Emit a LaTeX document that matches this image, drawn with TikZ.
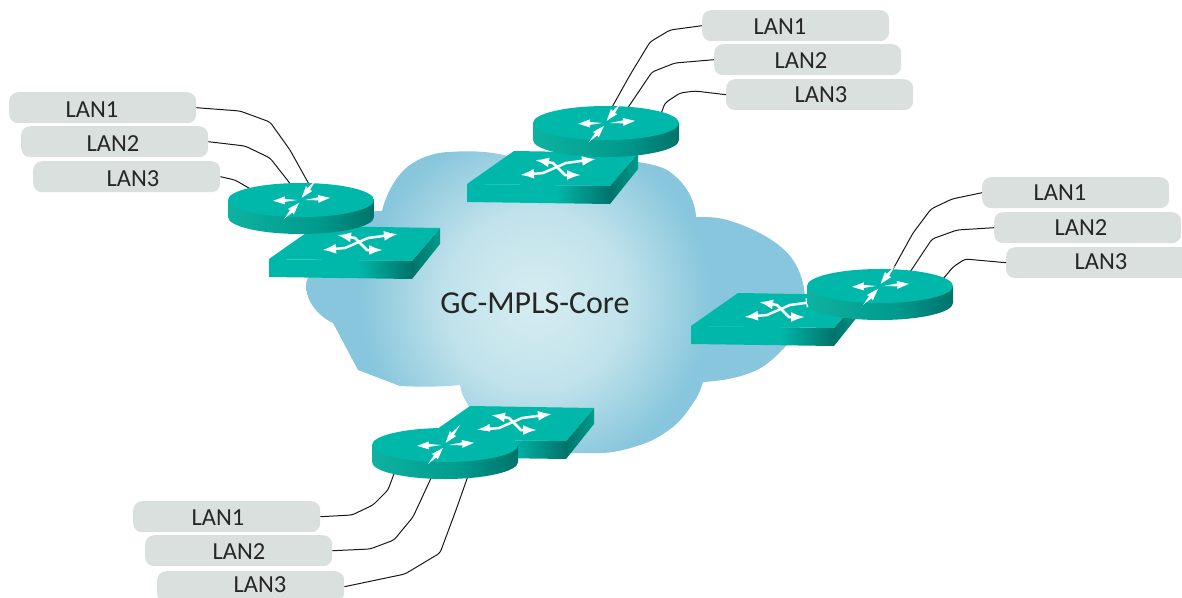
\documentclass[tikz,border=0pt]{standalone}
\usepackage{fontspec}
\setmainfont{Carlito}
\usetikzlibrary{arrows.meta}
\definecolor{pillc}{RGB}{218,224,222}
\definecolor{topc}{RGB}{0,184,170}
\definecolor{sidel}{RGB}{14,178,160}
\definecolor{sidem}{RGB}{0,155,142}
\definecolor{sider}{RGB}{0,115,107}
\definecolor{cloudin}{RGB}{214,237,241}
\definecolor{cloudmid}{RGB}{192,226,235}
\definecolor{cloudout}{RGB}{135,198,220}
\definecolor{wirec}{RGB}{25,25,25}
\pgfdeclareradialshading{cloudshade}{\pgfpoint{0bp}{0bp}}{%
  color(0bp)=(cloudin); color(7.5bp)=(cloudmid); color(14.6bp)=(cloudout); color(50bp)=(cloudout)}
\pgfdeclarehorizontalshading{sideshade}{100bp}{%
  color(0bp)=(sidel); color(25bp)=(sidel); color(55bp)=(sidem); color(75bp)=(sider); color(100bp)=(sider)}
\pgfdeclarehorizontalshading{frontshade}{100bp}{%
  color(0bp)=(topc); color(56bp)=(topc); color(75bp)=(sider); color(100bp)=(sider)}
\pgfdeclarehorizontalshading{endshade}{100bp}{%
  color(0bp)=(sider); color(25bp)=(sider); color(75bp)=(sidem); color(100bp)=(sidem)}
\tikzset{
  pill/.style={fill=pillc,rounded corners=9pt,minimum width=187pt,minimum height=31pt,inner sep=0pt},
  lantext/.style={font=\fontsize{24.5}{28}\selectfont,text=black!85,inner sep=0pt},
  wire/.style={draw=wirec,line width=1pt,rounded corners=3pt},
  whitearrow/.style={draw=white,line width=2.5pt,{Latex[length=14pt,width=10pt]}-{Latex[length=14pt,width=10pt]}},
  sidefill/.style={shading=sideshade,shading angle=0},
}
\newcommand{\tarrow}[4]{%
  \begin{scope}[shift={(#1,#2)},rotate=#3]
    \fill[white] (0,0) -- (#4-11,1.6) -- (#4-12,-4) -- (#4,0) -- (#4-12,4) -- (#4-11,-1.6) -- cycle;
  \end{scope}}
\newcommand{\routerat}[3]{%
  \path[sidefill] (#2-73,#3) -- (#2-73,#3+17) arc[start angle=180,end angle=360,x radius=73pt,y radius=17pt] -- (#2+73,#3) -- cycle;
  \fill[topc] (#2,#3) ellipse[x radius=73pt,y radius=17pt];
  \node[inner sep=0pt,minimum size=0pt] (#1) at (#2,#3) {};
  \begin{scope}[shift={(#2,#3)}]
    \tarrow{-4}{0}{182}{24}
    \tarrow{4}{0}{5}{25}
    \tarrow{15}{-20}{231}{23}
    \tarrow{-17}{19}{47}{22}
  \end{scope}}
\newcommand{\switchat}[3]{%
  \path[shading=frontshade] (#2,#3) -- (#2+143,#3+2) -- (#2+143,#3+20) -- (#2,#3+18) -- cycle;
  \path[shading=endshade] (#2+143,#3+2) -- (#2+171,#3-31) -- (#2+171,#3-15) -- (#2+143,#3+20) -- cycle;
  \fill[topc] (#2,#3) -- (#2+47,#3-33) -- (#2+171,#3-31) -- (#2+143,#3+2) -- cycle;
  \node[inner sep=0pt,minimum size=0pt] (#1) at (#2+91,#3-14) {};
  \begin{scope}[shift={(#2+91,#3-14)}]
    \draw[whitearrow] (-38,5) -- (-15,3) -- (8,-7) -- (38,-11);
    \draw[whitearrow] (-23,-10) -- (-5,-7) -- (7,5) -- (23,5);
  \end{scope}}
\newcommand{\lanpill}[6]{%
  \node[pill,anchor=north west] (#1) at (#2,#3) {};
  \node[lantext] (#1t) at (#4,#5) {#6};}
\begin{document}
\begin{tikzpicture}[x=1pt,y=-1pt]
\useasboundingbox (0,0) rectangle (1182,597);
\begin{scope}
\clip (0,0) rectangle (1182,597);
% cloud
\begin{scope}
\clip (375,211) -- (382,211) .. controls (387,190) and (400,170) .. (413,163)
  .. controls (425,155) and (440,152) .. (450,152)
  .. controls (475,150) and (500,152) .. (520,160)
  -- (600,160) -- (638,162)
  .. controls (650,164) and (660,166) .. (667,170)
  .. controls (680,178) and (695,195) .. (696,217)
  .. controls (705,217) and (715,217) .. (723,219)
  .. controls (745,224) and (780,240) .. (793,260)
  .. controls (800,270) and (805,285) .. (805,300)
  -- (800,330) -- (785,347)
  .. controls (775,358) and (765,366) .. (757,370)
  .. controls (740,378) and (720,381) .. (703,382)
  .. controls (700,392) and (697,398) .. (693,403)
  .. controls (687,413) and (680,421) .. (673,427)
  .. controls (660,437) and (650,442) .. (640,445)
  .. controls (625,450) and (612,453) .. (600,453)
  -- (570,453) -- (520,440)
  .. controls (490,430) and (473,415) .. (467,403)
  .. controls (463,397) and (461,391) .. (460,385)
  .. controls (440,387) and (420,387) .. (400,386)
  -- (358,370) -- (333,323)
  .. controls (322,318) and (312,308) .. (308,297)
  .. controls (306,290) and (306,285) .. (307,280)
  -- (320,250) -- cycle;
\path[shading=cloudshade] (535,300) circle[radius=300pt];
\end{scope}
\node[inner sep=0pt,font=\fontsize{32}{36}\selectfont,text=black!85] (core) at (535,303) {GC-MPLS-Core};
% LAN pills
\lanpill{la}{9}{92}{92}{110}{LAN1}
\lanpill{lb}{21}{126}{113}{144}{LAN2}
\lanpill{lc}{33}{161}{133}{179}{LAN3}
\lanpill{ta}{702}{10}{780}{27}{LAN1}
\lanpill{tb}{714}{44}{801}{61}{LAN2}
\lanpill{tc}{726}{79}{821}{95}{LAN3}
\lanpill{ra}{982}{177}{1060}{193}{LAN1}
\lanpill{rb}{994}{212}{1081}{228}{LAN2}
\lanpill{rc}{1006}{247}{1101}{262}{LAN3}
\lanpill{ba}{133}{501}{218}{518}{LAN1}
\lanpill{bb}{145}{535}{239}{552}{LAN2}
\lanpill{bc}{157}{571}{260}{585}{LAN3}
% wire ends
\coordinate (ela) at (310,186);
\coordinate (elb) at (292,186);
\coordinate (elc) at (254,191);
\coordinate (eta) at (611,109);
\coordinate (etb) at (627,109);
\coordinate (etc) at (661,114);
\coordinate (era) at (892,271);
\coordinate (erb) at (910,272);
\coordinate (erc) at (943,279);
\coordinate (eba) at (395,471);
\coordinate (ebb) at (432,476);
\coordinate (ebc) at (468,476);
% wires
\draw[wire] (la.east) -- (240,111) -- (270,122) -- (290,150) -- (ela);
\draw[wire] (lb.east) -- (245,146) -- (270,158) -- (elb);
\draw[wire] (lc.east) -- (235,180) -- (elc);
\draw[wire] (ta.west) -- (670,30) -- (650,42) -- (630,75) -- (eta);
\draw[wire] (tb.west) -- (675,63) -- (652,72) -- (etb);
\draw[wire] (tc.west) -- (695,91) -- (680,93) -- (665,103) -- (etc);
\draw[wire] (ra.west) -- (952,199) -- (931,209) -- (913,233) -- (era);
\draw[wire] (rb.west) -- (957,230) -- (932,239) -- (erb);
\draw[wire] (rc.west) -- (965,259) -- (953,267) -- (erc);
\draw[wire] (ba.east) -- (352,515) -- (373,505) -- (388,490) -- (eba);
\draw[wire] (bb.east) -- (370,549) -- (394,540) -- (413,517) -- (ebb);
\draw[wire] (bc.east) -- (405,574) -- (440,553) -- (456,510) -- (ebc);
% devices
\switchat{sl}{269}{259}
\routerat{rl}{301}{200}
\switchat{st}{467}{184}
\routerat{rt}{606}{123}
\switchat{sr}{691}{326}
\routerat{rr}{880}{286}
\switchat{sb}{423}{439}
\routerat{rb2}{445}{445}
\end{scope}
\end{tikzpicture}
\end{document}
